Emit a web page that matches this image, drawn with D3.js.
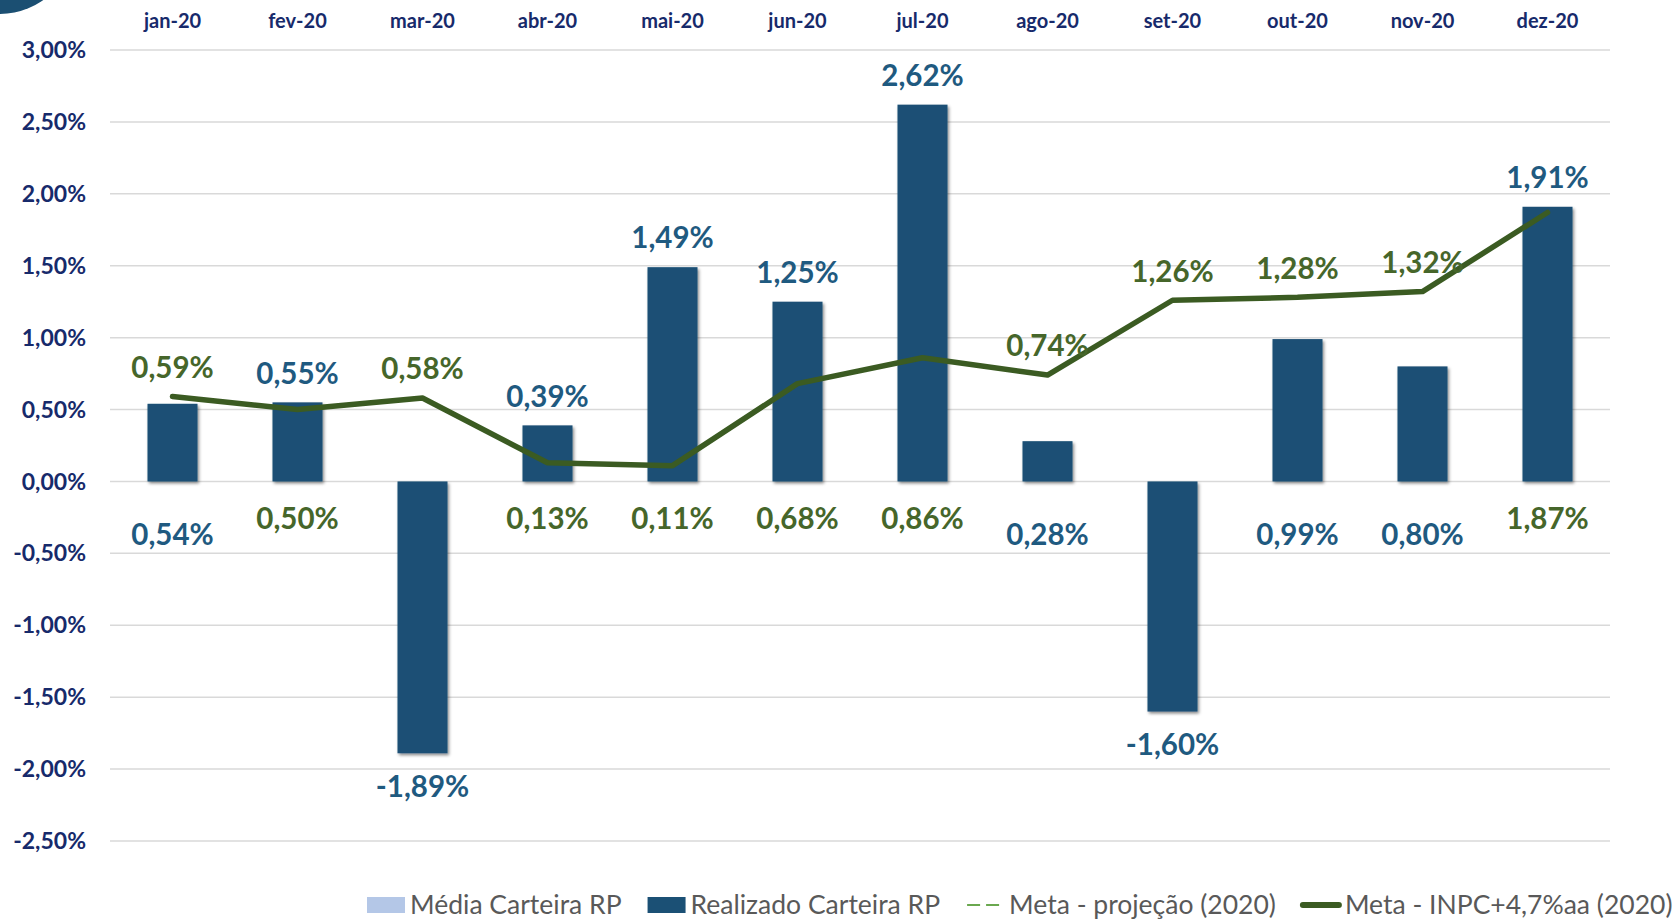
<!DOCTYPE html>
<html>
<head>
<meta charset="utf-8">
<script src="https://cdn.jsdelivr.net/npm/d3@7"></script>
<style>
  body { margin: 0; background: #fff; }
  svg { display: block; font-family: Lato, "Open Sans", sans-serif; }
</style>
</head>
<body>
<div id="chart"></div>
<script>
// dados
var months = ["jan-20", "fev-20", "mar-20", "abr-20", "mai-20", "jun-20",
              "jul-20", "ago-20", "set-20", "out-20", "nov-20", "dez-20"];
var realizado = [0.54, 0.55, -1.89, 0.39, 1.49, 1.25, 2.62, 0.28, -1.60, 0.99, 0.80, 1.91];
var meta = [0.59, 0.50, 0.58, 0.13, 0.11, 0.68, 0.86, 0.74, 1.26, 1.28, 1.32, 1.87];
var yTicks = [3, 2.5, 2, 1.5, 1, 0.5, 0, -0.5, -1, -1.5, -2, -2.5];
var legendItems = [
    { name: "Média Carteira RP", kind: "rect", color: "#b4c7e7" },
    { name: "Realizado Carteira RP", kind: "rect", color: "#1b5075" },
    { name: "Meta - projeção (2020)", kind: "dash", color: "#6aa84f" },
    { name: "Meta - INPC+4,7%aa (2020)", kind: "line", color: "#3b5b22" }
];

var W = 1677, H = 922;
var barColor = "#1b5075", lineColor = "#3b5b22",
    blueLabel = "#1f5a80", greenLabel = "#46662a", tickColor = "#172a6b";

var svg = d3.select("#chart").append("svg").attr("width", W).attr("height", H);

var defs = svg.append("defs");
var f = defs.append("filter").attr("id", "shadow")
    .attr("x", "-20%").attr("y", "-20%").attr("width", "140%").attr("height", "140%");
f.append("feDropShadow").attr("dx", 1.5).attr("dy", 2).attr("stdDeviation", 1.5)
    .attr("flood-color", "#000").attr("flood-opacity", 0.45);

// corner decoration
svg.append("circle").attr("cx", 0).attr("cy", -60).attr("r", 74).attr("fill", "#1b4f72");

var x = d3.scaleBand().domain(months).range([110, 1610]).paddingInner(0.6).paddingOuter(0.3);
var y = d3.scaleLinear().domain([-2.5, 3]).range([841, 50]);
var fmt = function (v) {
    return d3.format(".2f")(v).replace("\u2212", "-").replace(".", ",") + "%";
};
var cx = function (m) { return x(m) + x.bandwidth() / 2; };

// gridlines
svg.append("g").selectAll("line").data(yTicks).join("line")
    .attr("x1", 110).attr("x2", 1610)
    .attr("y1", function (d) { return y(d); }).attr("y2", function (d) { return y(d); })
    .attr("stroke", "#d9d9d9").attr("stroke-width", 1.5);

// y tick labels
svg.append("g").selectAll("text").data(yTicks).join("text")
    .attr("x", 86).attr("y", function (d) { return y(d); })
    .attr("dy", "0.35em").attr("text-anchor", "end")
    .attr("font-size", 23).attr("font-weight", 700).attr("fill", tickColor)
    .text(fmt);

// month labels on top
svg.append("g").selectAll("text").data(months).join("text")
    .attr("x", cx).attr("y", 28).attr("text-anchor", "middle")
    .attr("font-size", 20).attr("font-weight", 700).attr("fill", tickColor)
    .text(function (d) { return d; });

// bars
svg.append("g").selectAll("rect").data(realizado).join("rect")
    .attr("x", function (d, i) { return x(months[i]); })
    .attr("width", x.bandwidth())
    .attr("y", function (d) { return y(Math.max(0, d)); })
    .attr("height", function (d) { return Math.abs(y(d) - y(0)); })
    .attr("fill", barColor).attr("filter", "url(#shadow)");

// meta line
var line = d3.line().x(function (d, i) { return cx(months[i]); }).y(function (d) { return y(d); });
svg.append("path").datum(meta).attr("d", line)
    .attr("fill", "none").attr("stroke", lineColor).attr("stroke-width", 5.5)
    .attr("stroke-linecap", "round").attr("stroke-linejoin", "round");

// data labels: the higher value goes above, the lower one below the zero line
var labels = [];
months.forEach(function (m, i) {
    var b = realizado[i], l = meta[i];
    if (b >= l) {
        labels.push({ x: cx(m), y: y(b) - 29, v: b, c: blueLabel });
        labels.push({ x: cx(m), y: y(0) + 37, v: l, c: greenLabel });
    } else {
        labels.push({ x: cx(m), y: y(l) - 29, v: l, c: greenLabel });
        labels.push({ x: cx(m), y: b < 0 ? y(b) + 33 : y(0) + 53, v: b, c: blueLabel });
    }
});
svg.append("g").selectAll("text").data(labels).join("text")
    .attr("x", function (d) { return d.x; }).attr("y", function (d) { return d.y; })
    .attr("dy", "0.35em").attr("text-anchor", "middle")
    .attr("font-size", 29.5).attr("font-weight", 700).attr("fill", function (d) { return d.c; })
    .text(function (d) { return fmt(d.v); });

// legend
var lg = svg.append("g").attr("transform", "translate(0,905)");
var lx = 367;
legendItems.forEach(function (it) {
    if (it.kind === "rect") {
        lg.append("rect").attr("x", lx).attr("y", -8).attr("width", 38).attr("height", 16).attr("fill", it.color);
    } else {
        lg.append("line").attr("x1", lx + 1).attr("x2", lx + 37).attr("y1", 0).attr("y2", 0)
            .attr("stroke", it.color)
            .attr("stroke-width", it.kind === "dash" ? 2 : 6)
            .attr("stroke-linecap", it.kind === "dash" ? "butt" : "round")
            .attr("stroke-dasharray", it.kind === "dash" ? "13,6" : null);
    }
    var t = lg.append("text").attr("x", lx + 43).attr("y", 0).attr("dy", "0.35em")
        .attr("font-size", 26.5).attr("fill", "#595959").text(it.name);
    lx += 43 + t.node().getComputedTextLength() + 26;
});
</script>
</body>
</html>
